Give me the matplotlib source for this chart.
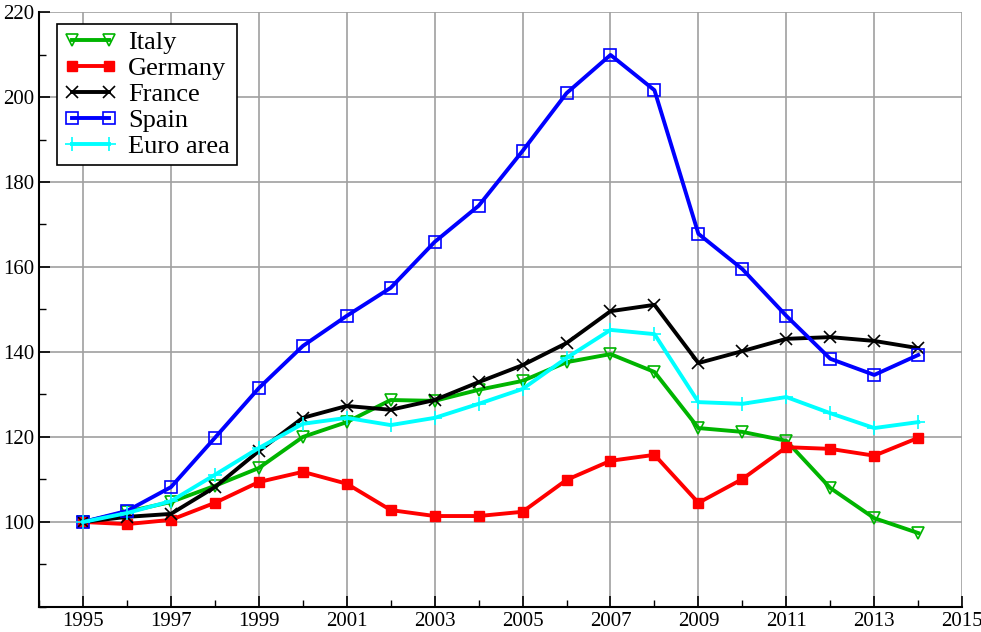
import numpy as np
import matplotlib.pyplot as plt
from matplotlib.ticker import MultipleLocator

plt.rcParams['font.family'] = ['Liberation Serif', 'DejaVu Serif']

years = list(range(1995, 2015))

italy = [100, 102.4, 104.7, 108.5, 112.7, 120.0, 123.5, 128.7, 128.5, 131.1,
         133.2, 137.6, 139.5, 135.3, 122.1, 121.2, 119.1, 108.0, 100.9, 97.4]
germany = [100, 99.5, 100.5, 104.5, 109.4, 111.8, 109.0, 102.8, 101.4, 101.4,
           102.4, 109.9, 114.4, 115.8, 104.5, 110.1, 117.6, 117.2, 115.6, 119.8]
france = [100, 101.2, 101.9, 108.2, 116.7, 124.5, 127.3, 126.4, 128.7, 132.9,
          136.9, 142.1, 149.6, 151.1, 137.4, 140.2, 143.1, 143.5, 142.6, 140.9]
spain = [100, 102.6, 108.2, 119.8, 131.5, 141.4, 148.5, 155.1, 165.9, 174.4,
         187.3, 200.9, 209.9, 201.6, 167.8, 159.5, 148.5, 138.4, 134.6, 139.3]
euro = [100, 102.1, 104.9, 111.1, 117.4, 123.1, 124.5, 122.8, 124.5, 127.8,
        131.3, 138.6, 145.2, 144.2, 128.2, 127.8, 129.4, 125.6, 122.1, 123.5]

fig = plt.figure(figsize=(9.81, 6.32), dpi=100)
ax = fig.add_axes([0.0398, 0.0396, 0.941, 0.9414])

lw = 2.8
ax.plot(years, italy, color='#00b400', lw=lw, marker='v', ms=8,
        mfc='none', mec='#00b400', mew=1.2, label='Italy')
ax.plot(years, germany, color='#ff0000', lw=lw, marker='s', ms=7,
        label='Germany')
ax.plot(years, france, color='black', lw=lw, marker='x', ms=8, mew=1.2,
        label='France')
ax.plot(years, spain, color='#0000ff', lw=lw, marker='s', ms=8,
        mfc='none', mec='#0000ff', mew=1.2, label='Spain')
ax.plot(years, euro, color='#00ffff', lw=lw, marker='+', ms=10, mew=1.2,
        label='Euro area')

ax.set_xlim(1994, 2015)
ax.set_ylim(80, 220)
ax.set_xticks(range(1995, 2016, 2))
ax.set_yticks(range(100, 221, 20))
ax.xaxis.set_minor_locator(MultipleLocator(1))
ax.yaxis.set_minor_locator(MultipleLocator(10))
ax.tick_params(which='both', direction='in', labelsize=15)
ax.tick_params(which='major', length=8, width=1.2)
ax.tick_params(which='minor', length=5, width=1)
ax.grid(True, which='major', color='#a0a0a0', lw=1.2)
ax.set_axisbelow(True)
for s in ['top', 'right']:
    ax.spines[s].set_visible(False)
for s in ['left', 'bottom']:
    ax.spines[s].set_linewidth(1.5)

leg = ax.legend(loc='upper left', bbox_to_anchor=(0.0195, 0.98), fontsize=19,
                numpoints=2, handlelength=2.0, fancybox=False, framealpha=1,
                edgecolor='black', borderpad=0.25, labelspacing=0.1,
                handletextpad=0.45, borderaxespad=0)
leg.get_frame().set_linewidth(1.2)

plt.savefig('out.png')
